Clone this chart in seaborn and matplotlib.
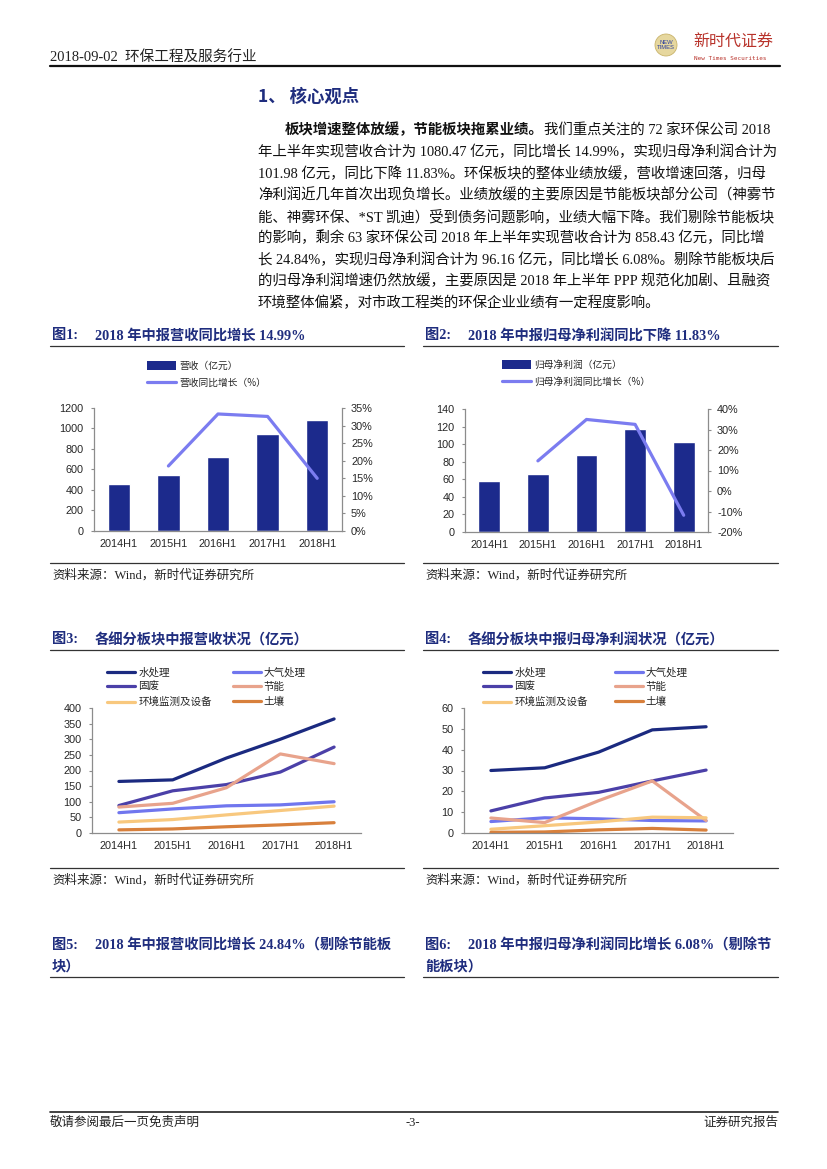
import numpy as np
import pandas as pd
import matplotlib.pyplot as plt
import seaborn as sns
from matplotlib.lines import Line2D
from matplotlib.patches import Patch, Ellipse
from matplotlib.ticker import PercentFormatter, MultipleLocator

# ---- data ----
periods = ['2014H1', '2015H1', '2016H1', '2017H1', '2018H1']
revenue = [460, 545, 720, 945, 1080]           # 营收（亿元）
revenue_yoy = [np.nan, 18.5, 33.3, 32.6, 14.99]  # 营收同比增长（%）
profit = [57.5, 66, 88, 117, 102]              # 归母净利润（亿元）
profit_yoy = [np.nan, 14.7, 34.9, 32.5, -11.83]

sectors = ['水处理', '大气处理', '固废', '节能', '环境监测及设备', '土壤']
rev_water = [165, 170, 240, 300, 365]
rev_air = [65, 77, 87, 90, 100]
rev_waste = [88, 135, 155, 195, 275]
rev_energy = [83, 95, 145, 253, 222]
rev_monitor = [35, 43, 58, 72, 86]
rev_soil = [10, 13, 20, 26, 33]

np_water = [30, 31.3, 38.8, 49.5, 51]
np_air = [5.5, 7.3, 6.8, 6.0, 5.8]
np_waste = [10.6, 16.8, 19.5, 25, 30.2]
np_energy = [7.2, 5.0, 15.5, 25, 6.0]
np_monitor = [1.8, 3.5, 5.3, 7.6, 7.3]
np_soil = [0.3, 0.5, 1.5, 2.2, 1.4]

# ---- colours ----
NAVY = '#1c2a8c'
LAV = '#7b7cf0'
BLUE_T = '#1f2d7e'
GRAY = '#8c8c8c'
sector_colors = ['#1b2a80', '#7076ee', '#4b40a8', '#e8a38c', '#f8c87e', '#d8803c']

sns.set_theme(style='white')
plt.rcParams['font.family'] = ['Liberation Sans', 'Noto Sans CJK SC']
plt.rcParams['axes.unicode_minus'] = False
SERIF = ['Liberation Serif', 'Noto Sans CJK SC']
CJK = ['Noto Sans CJK SC', 'Liberation Sans']

W, H = 827, 1169
fig = plt.figure(figsize=(W / 100, H / 100), dpi=100)


def fx(x):
    return x / W


def fy(y):
    return 1 - y / H


def add_ax(l, t, r, b):
    return fig.add_axes([l / W, 1 - b / H, (r - l) / W, (b - t) / H])


def hline(x0, x1, y, lw=0.8, color='#333333'):
    fig.add_artist(Line2D([fx(x0), fx(x1)], [fy(y), fy(y)], lw=lw, color=color))


def txt(x, y, s, **kw):
    kw.setdefault('va', 'center')
    return fig.text(fx(x), fy(y), s, **kw)


# ---- header / footer ----
txt(50, 58, '2018-09-02  环保工程及服务行业', family=SERIF, fontsize=10.5, color='#222222')
hline(50, 780, 66, lw=1.6, color='#111111')
fig.add_artist(Ellipse((fx(666), fy(45)), 22 / W, 22 / H, facecolor='#e6d79e',
                       edgecolor='#c9b36a', lw=0.6))
txt(666, 45, 'NEW\nTIMES', ha='center', fontsize=4.2, color='#2b3f9e', linespacing=0.9)
txt(693, 42, '新时代证券', family=CJK, fontsize=11.5, color='#b8322a')
txt(694, 58, 'New Times Securities', family='DejaVu Sans Mono', fontsize=4.3, color='#b8322a')

hline(50, 778, 1112, lw=1.2, color='#222222')
txt(50, 1123, '敬请参阅最后一页免责声明', family=SERIF, fontsize=9, color='#222222')
txt(413, 1123, '-3-', family=SERIF, fontsize=9, ha='center', color='#222222')
txt(778, 1123, '证券研究报告', family=SERIF, fontsize=9, ha='right', color='#222222')

# ---- section title and paragraph ----
txt(258, 97, '1、 核心观点', family=CJK, fontsize=12.5, fontweight='bold', color=BLUE_T)

renderer = fig.canvas.get_renderer()
bold = txt(285, 130, '板块增速整体放缓，节能板块拖累业绩。', family=SERIF,
           fontsize=10.4, fontweight='bold', color='#111111')
bx = bold.get_window_extent(renderer=renderer).x1
fig.text(bx / W, fy(130), '我们重点关注的 72 家环保公司 2018', family=SERIF,
         fontsize=10.4, va='center', color='#111111')
para = [
    '年上半年实现营收合计为 1080.47 亿元，同比增长 14.99%，实现归母净利润合计为',
    '101.98 亿元，同比下降 11.83%。环保板块的整体业绩放缓，营收增速回落，归母',
    '净利润近几年首次出现负增长。业绩放缓的主要原因是节能板块部分公司（神雾节',
    '能、神雾环保、*ST 凯迪）受到债务问题影响，业绩大幅下降。我们剔除节能板块',
    '的影响，剩余 63 家环保公司 2018 年上半年实现营收合计为 858.43 亿元，同比增',
    '长 24.84%，实现归母净利润合计为 96.16 亿元，同比增长 6.08%。剔除节能板块后',
    '的归母净利润增速仍然放缓，主要原因是 2018 年上半年 PPP 规范化加剧、且融资',
    '环境整体偏紧，对市政工程类的环保企业业绩有一定程度影响。',
]
for i, line in enumerate(para):
    txt(258, 152 + i * 21.5, line, family=SERIF, fontsize=10.4, color='#111111')


# ---- figure captions ----
def caption(x0, x1, y, num, lines):
    txt(x0 + 2, y, f'图{num}:', family=SERIF, fontsize=10.3, fontweight='bold', color=BLUE_T)
    for k, s in enumerate(lines):
        if k == 0:
            txt(x0 + 45, y, s, family=SERIF, fontsize=10.3, fontweight='bold', color=BLUE_T)
        else:
            txt(x0 + 2, y + 22 * k, s, family=SERIF, fontsize=10.3, fontweight='bold', color=BLUE_T)
    hline(x0, x1, y + 10 + 22 * (len(lines) - 1), lw=0.9)


def source(x0, x1, y):
    hline(x0, x1, y, lw=0.9)
    txt(x0 + 2, y + 12, '资料来源：Wind，新时代证券研究所', family=SERIF, fontsize=9, color='#222222')


caption(50, 404, 336, 1, ['2018 年中报营收同比增长 14.99%'])
caption(423, 778, 336, 2, ['2018 年中报归母净利润同比下降 11.83%'])
caption(50, 404, 640, 3, ['各细分板块中报营收状况（亿元）'])
caption(423, 778, 640, 4, ['各细分板块中报归母净利润状况（亿元）'])
caption(50, 404, 945, 5, ['2018 年中报营收同比增长 24.84%（剔除节能板', '块）'])
caption(423, 778, 945, 6, ['2018 年中报归母净利润同比增长 6.08%（剔除节', '能板块）'])
source(50, 404, 563)
source(423, 778, 563)
source(50, 404, 868)
source(423, 778, 868)


# ---- axis styling ----
def style_axes(ax):
    for s in ['top', 'right']:
        ax.spines[s].set_visible(False)
    for s in ['left', 'bottom']:
        ax.spines[s].set_color(GRAY)
        ax.spines[s].set_linewidth(0.9)
    ax.set_xlim(-0.5, len(periods) - 0.5)
    ax.set_xticks(range(len(periods)))
    ax.set_xticklabels(periods)
    ax.set_xticks(np.arange(-0.5, len(periods)), minor=True)
    ax.tick_params(axis='x', which='major', length=0, labelsize=7.8, pad=5.5)
    ax.tick_params(axis='x', which='minor', length=3, width=0.8, color=GRAY, direction='out')
    ax.tick_params(axis='y', left=True, length=2.5, width=0.8, color=GRAY, direction='out',
                   labelsize=7.8, pad=5)
    ax.set_xlabel('')
    ax.set_ylabel('')
    ax.grid(False)


def style_right(ax2):
    for s in ['top', 'left', 'bottom']:
        ax2.spines[s].set_visible(False)
    ax2.spines['right'].set_color(GRAY)
    ax2.spines['right'].set_linewidth(0.9)
    ax2.tick_params(axis='y', right=True, length=2.5, width=0.8, color=GRAY, direction='out',
                    labelsize=7.8, pad=4)
    ax2.yaxis.set_major_formatter(PercentFormatter(decimals=0))
    ax2.set_ylabel('')
    ax2.grid(False)


def bar_line_chart(rect, values, growth, ylim, ystep, y2lim, y2step, labels, leg_xy):
    ax = add_ax(*rect)
    df = pd.DataFrame({'period': periods, 'value': values, 'growth': growth,
                       'pos': range(len(periods))})
    sns.barplot(data=df, x='period', y='value', color=NAVY, saturation=1, width=0.45, ax=ax)
    ax2 = ax.twinx()
    sns.lineplot(data=df, x='pos', y='growth', color=LAV, lw=2.3, ax=ax2)
    style_axes(ax)
    style_right(ax2)
    ax.set_ylim(*ylim)
    ax.yaxis.set_major_locator(MultipleLocator(ystep))
    ax2.set_ylim(*y2lim)
    ax2.yaxis.set_major_locator(MultipleLocator(y2step))
    ax.set_xlim(-0.5, len(periods) - 0.5)
    handles = [Patch(facecolor=NAVY, edgecolor='none'), Line2D([], [], color=LAV, lw=2.3)]
    ax.legend(handles, labels, loc='upper left', bbox_to_anchor=(fx(leg_xy[0]), fy(leg_xy[1])),
              bbox_transform=fig.transFigure, frameon=False, prop={'family': CJK, 'size': 7.0},
              handlelength=3.0, handleheight=1.0, handletextpad=0.3, labelspacing=0.75,
              borderpad=0, borderaxespad=0)
    return ax


bar_line_chart((94, 408, 342, 531), revenue, revenue_yoy, (0, 1200), 200, (0, 35), 5,
               ['营收（亿元）', '营收同比增长（%）'], (147, 361))
bar_line_chart((465, 409, 708, 532), profit, profit_yoy, (0, 140), 20, (-20, 40), 10,
               ['归母净利润（亿元）', '归母净利润同比增长（%）'], (502, 360))


def multi_line_chart(rect, series, ylim, ystep, leg_xy, colspace):
    ax = add_ax(*rect)
    rows = []
    for name, vals in zip(sectors, series):
        for p, v in enumerate(vals):
            rows.append({'sector': name, 'pos': p, 'value': v})
    df = pd.DataFrame(rows)
    sns.lineplot(data=df, x='pos', y='value', hue='sector', hue_order=sectors,
                 palette=sector_colors, lw=2.3, legend=False, ax=ax)
    style_axes(ax)
    ax.set_ylim(*ylim)
    ax.yaxis.set_major_locator(MultipleLocator(ystep))
    order = [0, 2, 4, 1, 3, 5]
    handles = [Line2D([], [], color=sector_colors[i], lw=2.3) for i in order]
    ax.legend(handles, [sectors[i] for i in order], ncol=2, loc='upper left',
              bbox_to_anchor=(fx(leg_xy[0]), fy(leg_xy[1])), bbox_transform=fig.transFigure,
              frameon=False, prop={'family': CJK, 'size': 7.6}, handlelength=2.65,
              handletextpad=0.3, labelspacing=0.45, columnspacing=colspace,
              borderpad=0, borderaxespad=0)
    return ax


multi_line_chart((92, 708, 361, 833),
                 [rev_water, rev_air, rev_waste, rev_energy, rev_monitor, rev_soil],
                 (0, 400), 50, (107, 667), 2.0)
multi_line_chart((464, 708, 733, 833),
                 [np_water, np_air, np_waste, np_energy, np_monitor, np_soil],
                 (0, 60), 10, (483, 667), 2.55)

fig.savefig('out.png', dpi=100)
